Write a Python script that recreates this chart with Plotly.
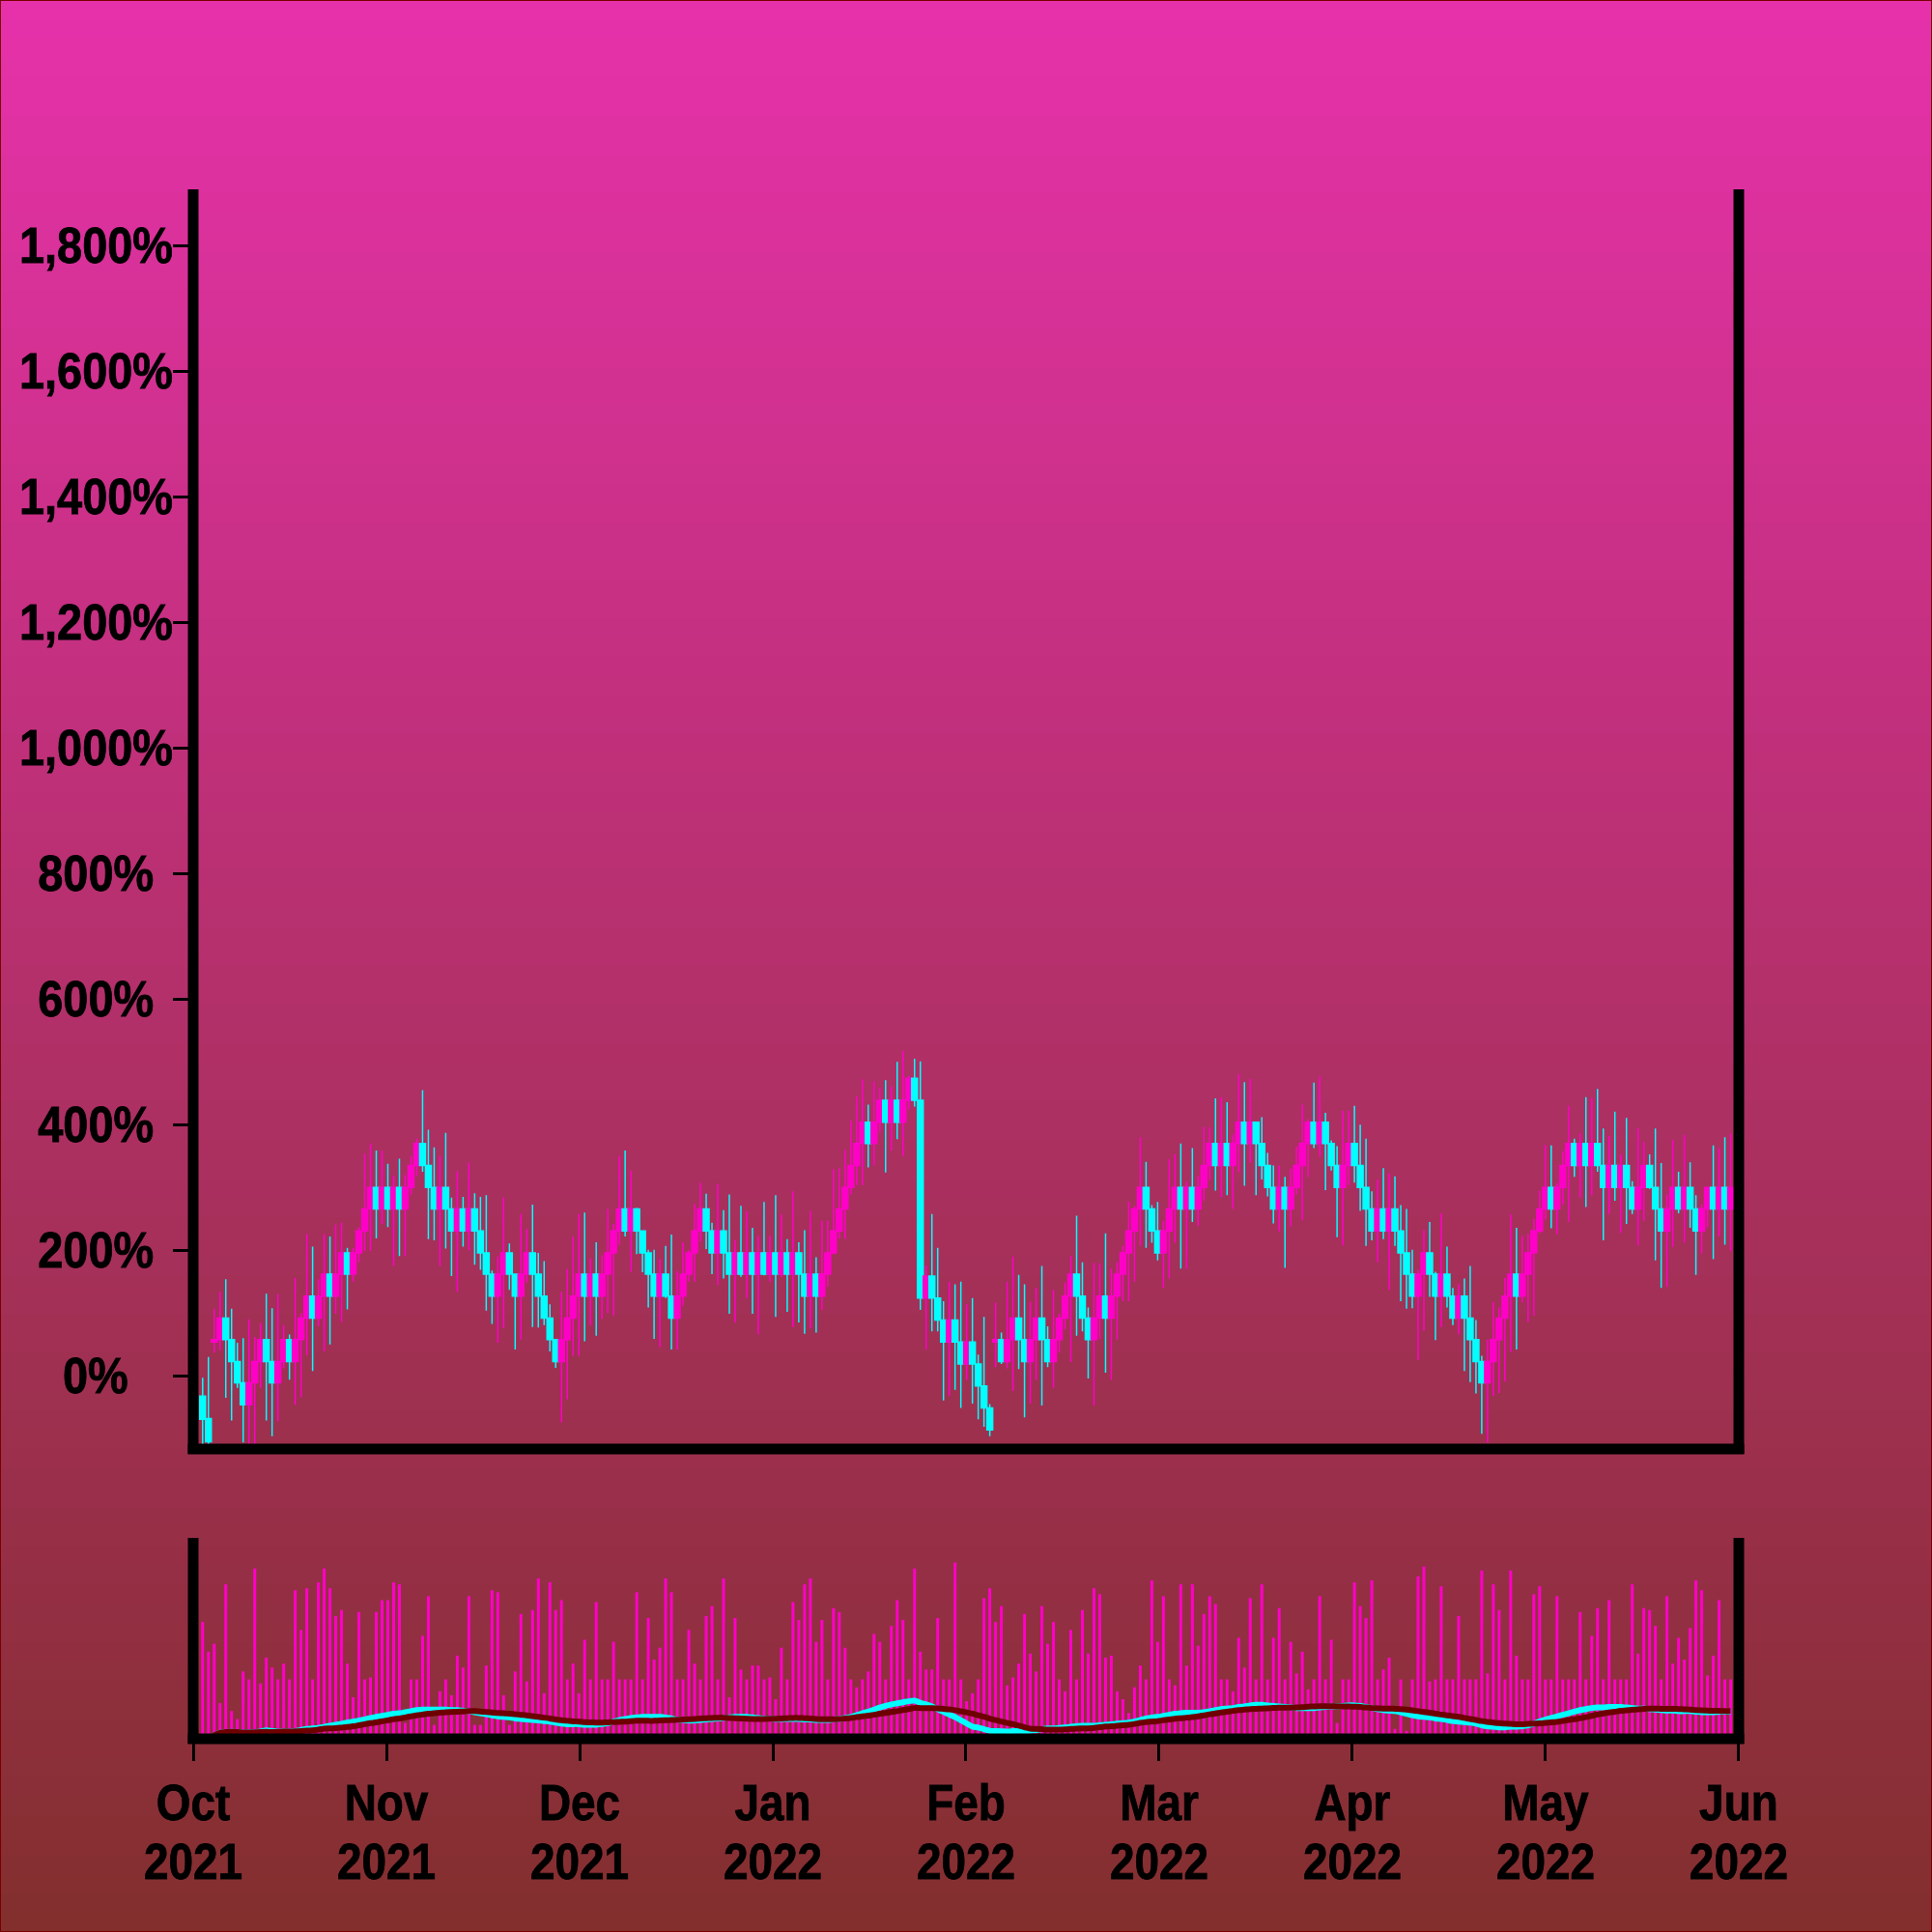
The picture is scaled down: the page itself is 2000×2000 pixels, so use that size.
import plotly.graph_objects as go
import pandas as pd

# ---------------- data ----------------
opens = [
    -31, -67, 55, 59, 93, 59, 24, -10, -45, -10,
    24, 59, 24, -10, 24, 59, 24, 59, 93, 128,
    93, 128, 163, 128, 163, 197, 163, 197, 232, 267,
    301, 267, 301, 267, 301, 267, 301, 336, 371, 336,
    301, 267, 301, 267, 232, 267, 232, 267, 232, 197,
    163, 128, 163, 197, 163, 128, 163, 197, 163, 128,
    93, 59, 24, 59, 93, 128, 163, 128, 163, 128,
    163, 197, 232, 267, 232, 267, 232, 197, 163, 128,
    163, 128, 93, 128, 163, 197, 232, 267, 232, 197,
    232, 197, 163, 197, 163, 197, 163, 197, 163, 197,
    163, 197, 163, 197, 163, 128, 163, 128, 163, 197,
    232, 267, 301, 336, 371, 405, 371, 405, 440, 405,
    440, 405, 440, 475, 440, 125, 160, 125, 90, 55,
    90, 55, 20, 55, 20, -15, -50, 55, 59, 24,
    59, 93, 59, 24, 59, 93, 59, 24, 59, 93,
    128, 163, 128, 93, 59, 93, 128, 93, 128, 163,
    197, 232, 267, 301, 267, 232, 197, 232, 267, 301,
    267, 301, 267, 301, 336, 371, 336, 371, 336, 371,
    405, 371, 405, 371, 336, 301, 267, 301, 267, 301,
    336, 371, 405, 371, 405, 371, 336, 301, 336, 371,
    336, 301, 267, 232, 267, 232, 267, 232, 197, 163,
    128, 163, 197, 163, 128, 163, 128, 93, 128, 93,
    59, 24, -10, 24, 59, 93, 128, 163, 128, 163,
    197, 232, 267, 301, 267, 301, 336, 371, 336, 371,
    336, 371, 336, 301, 336, 301, 336, 301, 267, 301,
    336, 301, 267, 232, 267, 301, 267, 301, 267, 232,
    267, 301, 267, 301, 267,
]
highs = [
    -2, 31, 108, 135, 155, 108, 54, 61, 91, 63,
    85, 132, 109, 131, 82, 67, 157, 101, 227, 207,
    155, 227, 223, 242, 245, 205, 205, 238, 355, 371,
    360, 360, 339, 320, 347, 321, 351, 379, 456, 393,
    365, 351, 388, 285, 327, 286, 341, 292, 286, 289,
    169, 191, 285, 212, 163, 259, 235, 274, 197, 184,
    115, 59, 135, 171, 223, 259, 261, 188, 214, 193,
    267, 243, 351, 360, 328, 269, 233, 202, 202, 187,
    208, 226, 168, 214, 202, 275, 309, 291, 245, 307,
    265, 290, 217, 272, 263, 237, 224, 278, 224, 289,
    258, 219, 295, 214, 233, 264, 190, 248, 248, 330,
    332, 361, 408, 446, 473, 433, 470, 460, 472, 462,
    501, 519, 479, 506, 502, 177, 259, 205, 120, 151,
    147, 151, 115, 125, 35, 95, -44, 118, 70, 151,
    191, 162, 147, 119, 141, 176, 80, 138, 100, 150,
    192, 256, 182, 110, 181, 180, 228, 172, 182, 208,
    279, 272, 381, 342, 273, 278, 248, 346, 354, 371,
    310, 364, 320, 398, 397, 443, 445, 437, 385, 482,
    469, 474, 405, 413, 356, 336, 336, 318, 331, 366,
    433, 410, 468, 478, 420, 376, 367, 423, 423, 431,
    401, 379, 295, 314, 332, 323, 319, 273, 267, 202,
    170, 233, 246, 167, 260, 207, 141, 147, 156, 176,
    90, 33, 59, 119, 110, 157, 258, 237, 224, 227,
    251, 296, 369, 368, 308, 359, 431, 379, 387, 445,
    443, 458, 395, 383, 422, 354, 412, 311, 395, 374,
    354, 395, 340, 290, 377, 326, 385, 341, 289, 274,
    302, 368, 364, 381, 387,
]
lows = [
    -125, -125, 38, 42, -34, -70, -18, -105, -110, -115,
    -18, -70, -95, -71, 13, -5, -45, -33, 34, 9,
    80, 40, 51, 100, 87, 107, 151, 182, 200, 200,
    220, 243, 238, 176, 192, 191, 290, 320, 326, 219,
    217, 176, 204, 160, 135, 207, 201, 178, 170, 105,
    84, 54, 77, 138, 43, 59, 150, 79, 78, 82,
    40, 14, -73, -36, 33, 33, 56, 82, 65, 92,
    101, 97, 210, 223, 167, 195, 166, 110, 60, 47,
    125, 43, 43, 113, 151, 151, 215, 203, 163, 146,
    156, 100, 86, 159, 125, 100, 67, 161, 151, 95,
    159, 103, 79, 86, 68, 77, 70, 106, 143, 195,
    220, 219, 290, 305, 305, 333, 336, 390, 325, 360,
    378, 351, 425, 430, 106, 43, 72, 72, -38, -31,
    -21, -50, -5, -43, -68, -80, -95, 15, 20, 13,
    -23, 12, -65, -43, -5, -46, 15, -18, 38, 75,
    23, 65, 72, -3, -46, 60, 6, -5, 59, 120,
    120, 151, 208, 205, 213, 185, 141, 156, 213, 172,
    172, 246, 240, 280, 313, 296, 286, 289, 267, 325,
    304, 341, 289, 314, 287, 244, 231, 173, 239, 290,
    249, 318, 364, 350, 297, 328, 222, 209, 305, 309,
    264, 208, 217, 182, 219, 138, 208, 120, 108, 109,
    26, 73, 127, 58, 79, 110, 82, 67, 9, -9,
    -27, -91, -105, -31, -26, -8, 39, 43, 118, 87,
    97, 228, 250, 236, 226, 274, 246, 318, 285, 270,
    289, 326, 217, 259, 280, 229, 243, 259, 209, 248,
    299, 185, 141, 143, 207, 260, 213, 237, 162, 196,
    238, 187, 223, 210, 200,
]
closes = [
    -68, -104, 59, 93, 59, 24, -10, -45, -10, 24,
    59, 24, -10, 24, 59, 24, 59, 93, 128, 93,
    128, 163, 128, 163, 197, 163, 197, 232, 267, 301,
    267, 301, 267, 301, 267, 301, 336, 371, 336, 301,
    267, 301, 267, 232, 267, 232, 267, 232, 197, 163,
    128, 163, 197, 163, 128, 163, 197, 163, 128, 93,
    59, 24, 59, 93, 128, 163, 128, 163, 128, 163,
    197, 232, 267, 232, 267, 232, 197, 163, 128, 163,
    128, 93, 128, 163, 197, 232, 267, 232, 197, 232,
    197, 163, 197, 163, 197, 163, 197, 163, 197, 163,
    197, 163, 197, 163, 128, 163, 128, 163, 197, 232,
    267, 301, 336, 371, 405, 371, 405, 440, 405, 440,
    405, 440, 475, 440, 125, 160, 125, 90, 55, 90,
    55, 20, 55, 20, -15, -50, -85, 59, 24, 59,
    93, 59, 24, 59, 93, 59, 24, 59, 93, 128,
    163, 128, 93, 59, 93, 128, 93, 128, 163, 197,
    232, 267, 301, 267, 232, 197, 232, 267, 301, 267,
    301, 267, 301, 336, 371, 336, 371, 336, 371, 405,
    371, 405, 371, 336, 301, 267, 301, 267, 301, 336,
    371, 405, 371, 405, 371, 336, 301, 336, 371, 336,
    301, 267, 232, 267, 232, 267, 232, 197, 163, 128,
    163, 197, 163, 128, 163, 128, 93, 128, 93, 59,
    24, -10, 24, 59, 93, 128, 163, 128, 163, 197,
    232, 267, 301, 267, 301, 336, 371, 336, 371, 336,
    371, 336, 301, 336, 301, 336, 301, 267, 301, 336,
    301, 267, 232, 267, 301, 267, 301, 267, 232, 267,
    301, 267, 301, 267, 301,
]
volumes = [
    59, 44, 48, 18, 78, 14, 10, 34, 30, 86,
    28, 41, 36, 30, 38, 30, 75, 55, 76, 30,
    79, 86, 76, 62, 65, 38, 21, 64, 30, 31,
    64, 70, 70, 79, 78, 8, 30, 30, 52, 72,
    7, 24, 30, 22, 42, 36, 72, 7, 7, 37,
    75, 74, 22, 7, 34, 63, 29, 65, 81, 23,
    79, 65, 70, 30, 38, 23, 50, 30, 69, 30,
    30, 49, 30, 30, 30, 74, 30, 61, 40, 46,
    81, 74, 30, 30, 55, 38, 30, 62, 67, 30,
    81, 21, 61, 35, 30, 37, 37, 30, 31, 20,
    46, 30, 69, 60, 78, 81, 49, 60, 30, 66,
    64, 46, 30, 26, 30, 34, 53, 49, 30, 57,
    70, 60, 30, 86, 44, 35, 35, 61, 30, 30,
    89, 30, 19, 23, 30, 71, 76, 59, 67, 27,
    31, 38, 63, 43, 34, 67, 48, 59, 30, 24,
    55, 30, 65, 43, 76, 73, 41, 42, 24, 20,
    13, 26, 37, 30, 80, 49, 72, 30, 27, 78,
    37, 78, 47, 63, 72, 68, 30, 30, 24, 51,
    36, 71, 30, 78, 30, 51, 66, 30, 49, 33,
    44, 25, 30, 72, 30, 50, 8, 30, 30, 79,
    67, 61, 80, 30, 35, 41, 5, 30, 4, 30,
    82, 87, 29, 30, 77, 30, 30, 62, 30, 30,
    30, 85, 33, 78, 65, 30, 85, 42, 30, 30,
    73, 77, 30, 30, 72, 30, 30, 30, 64, 30,
    52, 66, 30, 70, 30, 30, 30, 78, 43, 66,
    65, 57, 30, 72, 38, 51, 40, 56, 80, 75,
    32, 42, 70, 30, 30,
]
month_labels = ["Oct<br>2021", "Nov<br>2021", "Dec<br>2021", "Jan<br>2022",
                "Feb<br>2022", "Mar<br>2022", "Apr<br>2022", "May<br>2022",
                "Jun<br>2022"]
price_ticks = [0, 200, 400, 600, 800, 1000, 1200, 1400, 1600, 1800]

# ---------------- styling ----------------
MAGENTA = "#FF00C8"
CYAN = "#00FFFF"
DARKRED = "#6E0000"
FONT = "Liberation Sans, Arial, Helvetica, sans-serif"
W = H = 2000

idx = list(range(len(closes)))
ma_fast = pd.Series(closes).rolling(10, min_periods=1).mean()
ma_slow = pd.Series(closes).rolling(20, min_periods=1).mean()

x_range = [-1.63, 265.41]
month_pos = [-1.62 + 33.377 * m for m in range(len(month_labels))]

fig = go.Figure()
fig.add_trace(go.Candlestick(
    x=idx, open=opens, high=highs, low=lows, close=closes,
    increasing=dict(line=dict(color=MAGENTA, width=1.5), fillcolor=MAGENTA),
    decreasing=dict(line=dict(color=CYAN, width=1.5), fillcolor=CYAN),
    whiskerwidth=0, xaxis="x", yaxis="y", showlegend=False,
))
fig.add_trace(go.Bar(
    x=idx, y=volumes, marker=dict(color=MAGENTA, line=dict(width=0)),
    width=0.5, xaxis="x2", yaxis="y2", showlegend=False,
))
fig.add_trace(go.Scatter(
    x=idx, y=ma_fast, mode="lines", line=dict(color=CYAN, width=6, shape="spline"),
    xaxis="x2", yaxis="y3", showlegend=False,
))
fig.add_trace(go.Scatter(
    x=idx, y=ma_slow, mode="lines", line=dict(color=DARKRED, width=6, shape="spline"),
    xaxis="x2", yaxis="y3", showlegend=False,
))

def px(xp):
    return xp / W

def py(yp):
    return 1 - yp / H

shapes = []
# background gradient
top_c = (230, 49, 170)
bot_c = (131, 47, 46)
n = 100
for i in range(n):
    t = i / (n - 1)
    c = tuple(int(round(bot_c[j] + (top_c[j] - bot_c[j]) * t)) for j in range(3))
    shapes.append(dict(type="rect", xref="paper", yref="paper",
                       x0=0, x1=1, y0=i / n, y1=(i + 1) / n + 0.002,
                       fillcolor="rgb(%d,%d,%d)" % c, line=dict(width=0),
                       layer="below"))
# outer border
shapes.append(dict(type="rect", xref="paper", yref="paper", x0=0, x1=1, y0=0, y1=1,
                   line=dict(color="#7A0000", width=2), fillcolor="rgba(0,0,0,0)",
                   layer="above"))
# frame lines
LW = 11
def vline(x, ya, yb):
    shapes.append(dict(type="line", xref="paper", yref="paper",
                       x0=px(x), x1=px(x), y0=py(ya), y1=py(yb),
                       line=dict(color="black", width=LW), layer="above"))
def hline(y, xa, xb):
    shapes.append(dict(type="line", xref="paper", yref="paper",
                       x0=px(xa), x1=px(xb), y0=py(y), y1=py(y),
                       line=dict(color="black", width=LW), layer="above"))
vline(200, 1505, 196)
vline(1800, 1505, 196)
hline(1500, 194.5, 1805.5)
vline(200, 1805, 1592)
vline(1800, 1805, 1592)
hline(1800, 194.5, 1805.5)

annotations = []
for v in price_ticks:
    annotations.append(dict(x=px(99), xref="paper", y=v, yref="y",
                            text="{:,}%".format(v), showarrow=False,
                            xanchor="center", yanchor="middle",
                            font=dict(family=FONT, size=51, color="black", weight="bold")))

fig.update_layout(
    width=W, height=H,
    margin=dict(l=0, r=0, t=0, b=0, pad=0),
    paper_bgcolor="rgb(180,48,108)",
    plot_bgcolor="rgba(0,0,0,0)",
    boxgap=0.0, boxgroupgap=0.0,
    shapes=shapes,
    annotations=annotations,
    showlegend=False,
    xaxis=dict(domain=[0.1, 0.9], anchor="y", range=x_range, showticklabels=False,
               ticks="", showgrid=False, zeroline=False, showline=False,
               automargin=False, rangeslider=dict(visible=False), fixedrange=True),
    yaxis=dict(domain=[py(1500), py(200)], anchor="x", range=[-115.4, 1884.6],
               tickvals=price_ticks, ticks="outside", ticklen=20, tickwidth=3,
               tickcolor="black", showticklabels=False, showgrid=False,
               zeroline=False, showline=False, automargin=False),
    xaxis2=dict(domain=[0.1, 0.9], anchor="y2", range=x_range,
                tickvals=month_pos, ticktext=month_labels, ticks="outside",
                ticklen=22, tickwidth=3, tickcolor="black",
                tickfont=dict(family=FONT, size=51, color="black", weight="bold"),
                showgrid=False, zeroline=False, showline=False, automargin=False),
    yaxis2=dict(domain=[py(1800), py(1595)], anchor="x2", range=[0, 100],
                visible=False, showgrid=False, zeroline=False, automargin=False),
    yaxis3=dict(overlaying="y2", anchor="x2", range=[-83, 2545], visible=False,
                showgrid=False, zeroline=False, automargin=False),
)

# condense the bold labels a little (the reference uses a narrow, heavy face)
post = """
document.body.style.margin = '0';
(function () {
  function squeeze(sel, ratio) {
    document.querySelectorAll(sel).forEach(function (t) {
      var parts = t.querySelectorAll('tspan.line');
      var els = parts.length ? Array.prototype.slice.call(parts) : [t];
      els.forEach(function (e) {
        try {
          var L = e.getComputedTextLength();
          if (L > 0) {
            e.setAttribute('textLength', (L * ratio).toFixed(2));
            e.setAttribute('lengthAdjust', 'spacingAndGlyphs');
          }
          if (e.getAttribute('dy') === '1.3em') { e.setAttribute('dy', '1.2em'); }
        } catch (err) {}
      });
      t.style.stroke = 'black';
      t.style.strokeWidth = '0.8px';
    });
  }
  try {
    squeeze('.x2tick text', 0.9);
    squeeze('.annotation-text', 0.92);
  } catch (err) {}
})();
"""

fig.write_html("out.html", config={"displayModeBar": False}, post_script=post)
